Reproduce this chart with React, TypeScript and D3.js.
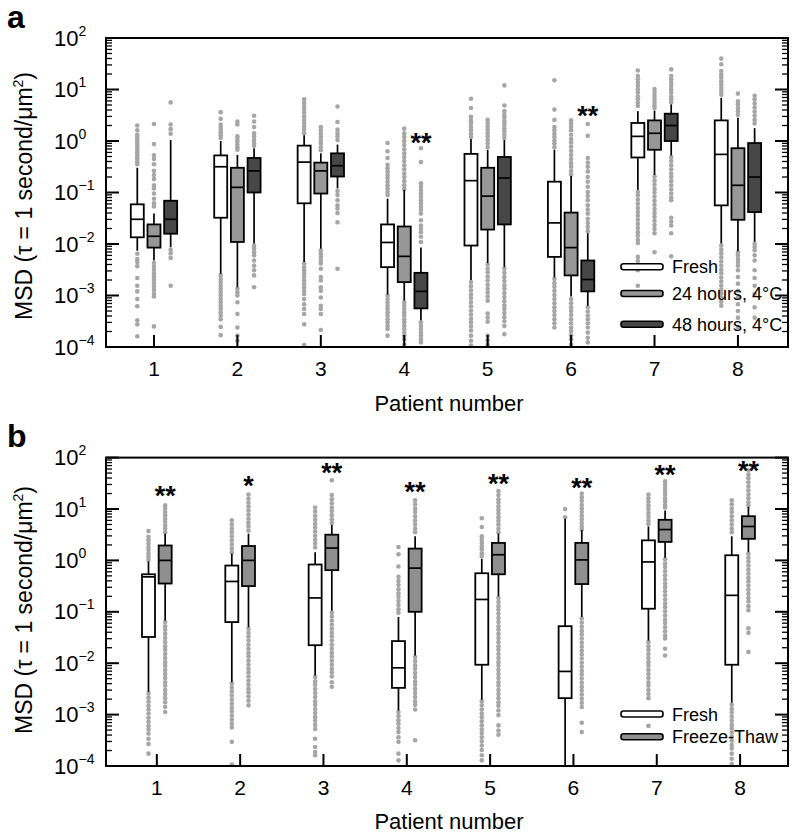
import React from "react";
import * as d3 from "d3";

// ---------- DATA (all values are log10 of MSD, τ = 1 s, µm²) ----------
const patients = [1, 2, 3, 4, 5, 6, 7, 8];
const decades = [-4, -3, -2, -1, 0, 1, 2];

// Panel a
const groupsA = ["Fresh", "24 hours, 4°C", "48 hours, 4°C"];
// [whiskerLow, q1, median, q3, whiskerHigh]
const aFreshStats = [
  [-2.13, -1.87, -1.52, -1.23, -0.52],
  [-2.58, -1.49, -0.5, -0.28, 0.0],
  [-2.35, -1.21, -0.41, -0.09, 0.11],
  [-2.98, -2.45, -1.97, -1.62, -1.12],
  [-2.7, -2.03, -0.77, -0.25, 0.04],
  [-2.65, -2.25, -1.59, -0.79, -0.17],
  [-0.95, -0.32, 0.09, 0.35, 0.58],
  [-1.99, -1.25, -0.26, 0.4, 0.84],
];
const a24Stats = [
  [-2.32, -2.07, -1.85, -1.62, -1.41],
  [-2.84, -1.96, -0.9, -0.52, -0.27],
  [-2.09, -1.02, -0.58, -0.42, -0.24],
  [-3.1, -2.74, -2.24, -1.66, -0.95],
  [-2.37, -1.72, -1.07, -0.52, -0.17],
  [-3.02, -2.61, -2.07, -1.39, -0.68],
  [-0.66, -0.17, 0.15, 0.4, 0.59],
  [-2.14, -1.53, -0.86, -0.14, 0.45],
];
const a48Stats = [
  [-2.06, -1.8, -1.52, -1.16, 0.02],
  [-1.99, -1.0, -0.58, -0.33, -0.14],
  [-0.92, -0.69, -0.48, -0.24, -0.07],
  [-3.48, -3.25, -2.92, -2.56, -2.07],
  [-2.45, -1.62, -0.72, -0.31, 0.02],
  [-3.2, -2.92, -2.69, -2.32, -1.79],
  [-0.28, 0.0, 0.3, 0.53, 0.71],
  [-1.96, -1.38, -0.7, -0.04, 0.25],
];
const aFreshOut = [
  [0.3, 0.21, 0.12, 0.08, 0.04, -0.01, -0.05, -0.09, -0.14, -0.19, -0.22, -0.27, -0.32, -0.35, -0.4, -0.45, -2.19, -2.29, -2.35, -2.43, -2.66, -2.81, -2.92, -3.07, -3.21, -3.48, -3.56, -3.79],
  [0.56, 0.43, 0.32, 0.27, 0.22, 0.17, 0.11, 0.06, -2.61, -2.68, -2.74, -2.81, -2.87, -2.94, -3.0, -3.07, -3.13, -3.2, -3.26, -3.33, -3.39, -3.46, -3.61, -3.77],
  [0.81, 0.74, 0.67, 0.61, 0.55, 0.48, 0.41, 0.35, 0.28, 0.22, 0.15, -2.38, -2.45, -2.51, -2.58, -2.64, -2.71, -2.77, -2.84, -2.91, -2.97, -3.07, -3.17, -3.26, -3.36, -3.56, -3.96],
  [-0.04, -0.2, -0.33, -0.46, -0.53, -0.59, -0.66, -0.72, -0.79, -0.86, -0.92, -0.99, -1.05, -3.0, -3.07, -3.13, -3.2, -3.26, -3.33, -3.39, -3.46, -3.52, -3.59, -3.65, -3.78],
  [0.82, 0.64, 0.47, 0.4, 0.34, 0.27, 0.21, 0.14, 0.08, -2.74, -2.82, -2.9, -2.98, -3.05, -3.13, -3.21, -3.29, -3.37, -3.45, -3.52, -3.6, -3.68, -3.78, -3.88, -3.97],
  [1.18, 0.61, 0.41, 0.27, 0.21, 0.14, 0.08, 0.01, -0.05, -0.12, -2.68, -2.76, -2.83, -2.91, -2.99, -3.07, -3.15, -3.23, -3.3, -3.38, -3.46, -3.54, -3.62],
  [1.37, 1.26, 1.2, 1.13, 1.07, 1.0, 0.94, 0.87, 0.81, 0.74, 0.68, -0.99, -1.06, -1.14, -1.22, -1.3, -1.38, -1.45, -1.53, -1.61, -1.69, -1.77, -1.84, -1.92, -1.98, -2.25, -2.33, -2.42, -2.51, -2.81],
  [1.6, 1.49, 1.36, 1.29, 1.23, 1.16, 1.1, 1.03, 0.97, 0.9, -2.03, -2.11, -2.18, -2.26, -2.34, -2.42, -2.5, -2.57, -2.65, -2.73, -2.81, -2.89, -2.96, -3.04, -3.12, -3.2],
];
const a24Out = [
  [0.33, -0.06, -0.28, -0.35, -0.45, -0.58, -0.66, -0.74, -0.86, -0.92, -1.02, -1.12, -1.21, -1.27, -2.37, -2.44, -2.5, -2.57, -2.63, -2.7, -2.76, -2.83, -2.89, -2.96, -3.02, -3.6],
  [0.38, 0.32, 0.09, 0.04, -0.01, -0.07, -0.12, -0.17, -2.87, -2.94, -3.0, -3.13, -3.36, -3.62, -3.78, -3.88],
  [0.27, 0.21, 0.14, 0.08, 0.01, -0.05, -0.12, -0.18, -2.12, -2.19, -2.25, -2.32, -2.38, -2.48, -2.64, -2.71, -2.84, -2.91, -3.04, -3.2, -3.26, -3.36, -3.67],
  [0.24, 0.15, 0.08, 0.0, -0.08, -0.16, -0.24, -0.31, -0.39, -0.47, -0.55, -0.63, -0.7, -0.78, -0.86, -0.93, -3.13, -3.2, -3.26, -3.33, -3.39, -3.46, -3.52, -3.59, -3.65, -3.72, -3.78, -3.85, -3.95],
  [0.41, 0.35, 0.28, 0.22, 0.15, 0.09, 0.02, -0.05, -0.12, -2.4, -2.48, -2.55, -2.63, -2.71, -2.79, -2.87, -2.94, -3.02, -3.1, -3.35, -3.43, -3.51, -3.78, -3.87, -3.95],
  [0.4, 0.34, 0.27, 0.21, 0.12, 0.04, -0.03, -0.11, -0.19, -0.27, -0.35, -0.43, -0.5, -0.58, -0.65, -3.07, -3.15, -3.23, -3.3, -3.38, -3.46, -3.54, -3.62, -3.69, -3.77, -3.85, -3.95],
  [1.01, 0.95, 0.88, 0.82, 0.75, 0.69, 0.64, -0.69, -0.77, -0.85, -0.93, -1.0, -1.08, -1.16, -1.24, -1.32, -1.4, -1.47, -1.55, -1.63, -1.71, -1.79, -2.16],
  [0.92, 0.77, 0.71, 0.64, 0.58, 0.51, -2.16, -2.22, -2.29, -2.35, -2.42, -2.51, -2.64, -2.77, -2.91, -3.04, -3.17, -3.3, -3.43, -3.62],
];
const a48Out = [
  [0.75, 0.32, 0.23, 0.14, -2.11, -2.18, -2.27, -2.81],
  [0.49, 0.38, 0.27, 0.15, 0.09, 0.02, -0.04, -0.09, -2.03, -2.09, -2.16, -2.22, -2.32, -2.42, -2.51, -2.61, -2.84],
  [0.67, 0.37, 0.22, 0.15, 0.09, 0.02, -0.97, -1.05, -1.15, -1.25, -1.31, -1.4, -1.58, -2.48],
  [-0.14, -0.41, -0.82, -0.89, -0.95, -1.02, -1.08, -1.15, -1.21, -1.28, -1.34, -1.41, -1.54, -1.64, -1.7, -1.77, -1.86, -1.96, -3.52, -3.59, -3.65, -3.72, -3.78, -3.85, -3.91],
  [1.08, 0.69, 0.58, 0.51, 0.45, 0.38, 0.32, 0.25, 0.19, 0.12, 0.06, -2.48, -2.56, -2.64, -2.72, -2.8, -2.87, -2.95, -3.03, -3.11, -3.19, -3.26, -3.34, -3.42, -3.5, -3.59, -3.75],
  [0.33, 0.1, -0.33, -0.42, -0.5, -0.59, -0.7, -0.79, -0.89, -0.99, -1.07, -1.15, -1.25, -1.33, -1.41, -1.51, -1.59, -1.67, -1.75, -3.23, -3.31, -3.39, -3.46, -3.54, -3.62, -3.72, -3.82, -3.91],
  [1.39, 1.26, 1.2, 1.13, 1.07, 1.0, 0.94, 0.87, 0.81, 0.75, -0.31, -0.39, -0.47, -0.55, -0.63, -0.7, -0.78, -0.86, -0.94, -1.02, -1.1, -1.15, -1.49, -1.57, -1.64, -1.79, -2.24],
  [0.88, 0.81, 0.73, 0.65, 0.57, 0.49, 0.41, 0.34, -2.0, -2.06, -2.12, -2.22, -2.32, -2.51, -2.66, -2.81, -2.97, -3.23, -3.43],
];
// significance marks (panel a), placed over the 48 h box
const sigA = ["", "", "", "**", "", "**", "", ""];
const sigALevel = [0, 0, 0, 0.08, 0, 0.6, 0, 0];

// Panel b
const groupsB = ["Fresh", "Freeze-Thaw"];
const bFreshStats = [
  [-2.56, -1.49, -0.32, -0.27, -0.02],
  [-2.37, -1.2, -0.41, -0.1, 0.13],
  [-2.24, -1.65, -0.73, -0.08, 0.16],
  [-2.92, -2.48, -2.09, -1.57, -1.1],
  [-2.71, -2.03, -0.76, -0.25, 0.03],
  [-4.5, -2.68, -2.16, -1.28, 0.81],
  [-1.56, -0.94, -0.03, 0.39, 0.66],
  [-2.77, -2.03, -0.68, 0.1, 0.47],
];
const bFTStats = [
  [-1.17, -0.45, 0.0, 0.29, 0.52],
  [-1.3, -0.5, 0.0, 0.28, 0.52],
  [-0.98, -0.19, 0.24, 0.5, 0.69],
  [-1.85, -1.0, -0.15, 0.23, 0.47],
  [-0.7, -0.27, 0.11, 0.34, 0.52],
  [-1.1, -0.46, 0.01, 0.34, 0.59],
  [0.05, 0.36, 0.6, 0.79, 0.97],
  [0.16, 0.42, 0.66, 0.86, 1.04],
];
const bFreshOut = [
  [0.57, 0.46, 0.39, 0.33, 0.26, 0.2, 0.13, 0.07, 0.01, -2.59, -2.67, -2.75, -2.83, -2.9, -2.98, -3.06, -3.14, -3.22, -3.29, -3.37, -3.47, -3.57, -3.76],
  [0.78, 0.7, 0.62, 0.55, 0.47, 0.39, 0.31, 0.23, 0.16, -2.4, -2.48, -2.55, -2.63, -2.71, -2.79, -2.87, -2.94, -3.02, -3.1, -3.18, -3.25, -3.53, -3.97],
  [1.03, 0.95, 0.87, 0.79, 0.71, 0.64, 0.56, 0.48, 0.4, 0.33, 0.25, -2.27, -2.35, -2.42, -2.5, -2.58, -2.66, -2.74, -2.81, -2.89, -2.97, -3.05, -3.12, -3.2, -3.28, -3.47, -3.63, -3.73, -3.79],
  [0.26, 0.12, -0.12, -0.32, -0.4, -0.48, -0.56, -0.64, -0.71, -0.79, -0.87, -0.95, -1.02, -2.95, -3.03, -3.11, -3.18, -3.26, -3.34, -3.44, -3.53, -3.76, -3.89],
  [0.82, 0.65, 0.47, 0.4, 0.34, 0.27, 0.21, 0.14, 0.08, -2.74, -2.82, -2.9, -2.98, -3.05, -3.13, -3.21, -3.29, -3.36, -3.44, -3.52, -3.6, -3.69, -3.79, -3.89],
  [1.0, 0.84],
  [1.28, 1.21, 1.14, 1.07, 1.0, 0.92, 0.85, 0.78, 0.71, -1.59, -1.67, -1.74, -1.82, -1.9, -1.98, -2.05, -2.13, -2.21, -2.29, -2.37, -2.44, -2.52, -2.6, -2.68, -3.22],
  [1.17, 1.09, 1.01, 0.94, 0.86, 0.78, 0.7, 0.62, 0.55, -2.81, -2.89, -2.96, -3.04, -3.12, -3.2, -3.27, -3.35, -3.43, -3.51, -3.59, -3.66, -3.76, -3.86, -3.96],
];
const bFTOut = [
  [1.07, 1.01, 0.94, 0.88, 0.81, 0.75, 0.68, 0.62, 0.55, -1.2, -1.28, -1.35, -1.43, -1.51, -1.59, -1.67, -1.74, -1.82, -1.9, -1.98, -2.05, -2.13, -2.21, -2.29, -2.37, -2.44, -2.52, -2.6, -2.68, -2.76, -2.85, -2.95],
  [1.28, 1.2, 1.12, 1.05, 0.97, 0.89, 0.81, 0.73, 0.66, 0.58, -1.33, -1.41, -1.48, -1.56, -1.64, -1.72, -1.8, -1.87, -1.95, -2.03, -2.11, -2.18, -2.26, -2.34, -2.42, -2.5, -2.57, -2.65, -2.73, -2.82],
  [1.56, 1.27, 1.19, 1.11, 1.03, 0.96, 0.88, 0.8, 0.73, -1.02, -1.09, -1.17, -1.25, -1.33, -1.41, -1.48, -1.56, -1.64, -1.72, -1.8, -1.87, -1.95, -2.03, -2.11, -2.18, -2.26, -2.37, -2.46],
  [1.17, 1.09, 1.01, 0.94, 0.86, 0.78, 0.7, 0.62, 0.55, -1.88, -1.96, -2.04, -2.11, -2.19, -2.27, -2.35, -2.42, -2.5, -2.58, -2.66, -2.74, -2.81, -2.9, -3.5],
  [1.35, 1.27, 1.19, 1.12, 1.05, 0.98, 0.91, 0.84, 0.77, 0.7, 0.62, 0.55, -0.73, -0.81, -0.89, -0.96, -1.04, -1.12, -1.2, -1.28, -1.35, -1.43, -1.51, -1.59, -1.67, -1.74, -1.82, -1.9, -1.98, -2.05, -2.13, -2.21, -2.29, -2.37, -2.44, -2.52, -2.6, -2.68, -2.76, -2.83, -2.92, -3.01, -3.21, -3.31, -3.39],
  [1.3, 1.23, 1.16, 1.08, 1.01, 0.94, 0.87, 0.8, 0.73, 0.66, 0.6, -1.13, -1.21, -1.29, -1.37, -1.44, -1.52, -1.6, -1.68, -1.76, -1.83, -1.91, -1.99, -2.07, -2.15, -2.22, -2.3, -2.38, -2.46, -2.53, -2.61, -2.69, -2.77, -2.85, -3.16, -3.34],
  [1.54, 1.47, 1.41, 1.34, 1.28, 1.21, 1.15, 1.08, 1.03, 0.02, -0.06, -0.13, -0.21, -0.29, -0.37, -0.45, -0.52, -0.6, -0.68, -0.76, -0.84, -0.91, -0.99, -1.07, -1.15, -1.22, -1.3, -1.38, -1.46, -1.52, -1.72, -1.85],
  [1.75, 1.67, 1.6, 1.52, 1.44, 1.36, 1.28, 1.21, 1.13, 1.07, 0.13, 0.05, -0.02, -0.1, -0.18, -0.26, -0.34, -0.41, -0.49, -0.57, -0.65, -0.73, -0.8, -0.89, -0.97, -1.32, -1.41, -1.78],
];
const sigB = ["**", "*", "**", "**", "**", "**", "**", "**"];
const sigBLevel = [1.36, 1.56, 1.82, 1.45, 1.6, 1.53, 1.77, 1.86];

// ---------- STYLE ----------
const FONT = "'Liberation Sans', Arial, Helvetica, sans-serif";
const FILLS_A = ["#ffffff", "#979797", "#474747"];
const FILLS_B = ["#ffffff", "#8f8f8f"];
const DOT = "#a6a6a6";
const BOX_W = 13;

type PanelProps = {
  letter: string;
  top: number;
  bottom: number;
  xDomain: [number, number];
  offsets: number[];
  groups: string[];
  fills: string[];
  stats: number[][][];
  outliers: number[][][];
  sig: string[];
  sigLevel: number[];
  sigGroup: number;
  legendY: number[];
  letterY: number;
  titleY: number;
  tickLabelY: number;
  ylabelY: number;
};

const LEFT = 106;
const RIGHT = 788;

function Panel(p: PanelProps) {
  const x = d3.scaleLinear().domain(p.xDomain).range([LEFT, RIGHT]);
  const y = d3.scaleLog().domain([1e-4, 1e2]).range([p.bottom, p.top]);
  const ly = (v: number) => y(Math.pow(10, v));
  const clipId = "clip" + p.letter;

  const minor: number[] = [];
  for (let e = -4; e < 2; e++) for (let m = 2; m <= 9; m++) minor.push(m * Math.pow(10, e));

  return (
    <g>
      <defs>
        <clipPath id={clipId}>
          <rect x={LEFT} y={p.top} width={RIGHT - LEFT} height={p.bottom - p.top} />
        </clipPath>
      </defs>
      <text x={7} y={p.letterY} fontFamily={FONT} fontWeight="bold" fontSize={32}>{p.letter}</text>

      <g clipPath={`url(#${clipId})`}>
        {/* outliers */}
        {p.outliers.map((grp, gi) =>
          grp.map((vals, pi) =>
            vals.map((v, k) => (
              <circle key={`o${gi}-${pi}-${k}`} cx={x(patients[pi] + p.offsets[gi])} cy={ly(v)} r={2.3} fill={DOT} />
            ))
          )
        )}
        {/* whiskers and boxes */}
        {p.stats.map((grp, gi) =>
          grp.map((s, pi) => {
            const cx = x(patients[pi] + p.offsets[gi]);
            const [lo, q1, med, q3, hi] = s.map(ly);
            return (
              <g key={`b${gi}-${pi}`}>
                <line x1={cx} x2={cx} y1={lo} y2={q1} stroke="#000" strokeWidth={1.7} />
                <line x1={cx} x2={cx} y1={q3} y2={hi} stroke="#000" strokeWidth={1.7} />
                <rect x={cx - BOX_W / 2} y={q3} width={BOX_W} height={q1 - q3} fill={p.fills[gi]} stroke="#000" strokeWidth={1.8} />
                <line x1={cx - BOX_W / 2} x2={cx + BOX_W / 2} y1={med} y2={med} stroke="#000" strokeWidth={1.7} />
              </g>
            );
          })
        )}
      </g>

      {/* significance */}
      {p.sig.map((s, pi) =>
        s ? (
          <text key={`s${pi}`} x={x(patients[pi] + p.offsets[p.sigGroup])} y={ly(p.sigLevel[pi]) + 0.55 * 27}
            textAnchor="middle" fontFamily={FONT} fontWeight="bold" fontSize={27}>{s}</text>
        ) : null
      )}

      {/* frame */}
      <rect x={LEFT} y={p.top} width={RIGHT - LEFT} height={p.bottom - p.top} fill="none" stroke="#000" strokeWidth={2} />

      {/* y ticks */}
      {decades.map((e) => (
        <g key={`yt${e}`}>
          <line x1={LEFT} x2={LEFT + 13} y1={ly(e)} y2={ly(e)} stroke="#000" strokeWidth={2} />
          <line x1={RIGHT} x2={RIGHT - 13} y1={ly(e)} y2={ly(e)} stroke="#000" strokeWidth={2} />
          <text x={54} y={ly(e) + 7.5} fontFamily={FONT} fontSize={22}>
            10<tspan dy={-10} fontSize={14}>{e < 0 ? "\u2212" + Math.abs(e) : String(e)}</tspan>
          </text>
        </g>
      ))}
      {minor.map((v, i) => (
        <g key={`ym${i}`}>
          <line x1={LEFT} x2={LEFT + 6} y1={y(v)} y2={y(v)} stroke="#000" strokeWidth={1.3} />
          <line x1={RIGHT} x2={RIGHT - 6} y1={y(v)} y2={y(v)} stroke="#000" strokeWidth={1.3} />
        </g>
      ))}

      {/* x ticks */}
      {patients.map((pt) => (
        <g key={`xt${pt}`}>
          <line x1={x(pt)} x2={x(pt)} y1={p.bottom} y2={p.bottom - 12} stroke="#000" strokeWidth={2} />
          <text x={x(pt)} y={p.tickLabelY} textAnchor="middle" fontFamily={FONT} fontSize={21}>{pt}</text>
        </g>
      ))}

      {/* axis titles */}
      <text x={(LEFT + RIGHT) / 2 + 2} y={p.titleY} textAnchor="middle" fontFamily={FONT} fontSize={22}>Patient number</text>
      <text transform={`translate(32,${p.ylabelY}) rotate(-90)`} textAnchor="middle" fontFamily={FONT} fontSize={23}>
        MSD (τ = 1 second/μm<tspan dy={-9} fontSize={14}>2</tspan><tspan dy={9}>)</tspan>
      </text>

      {/* legend */}
      {p.groups.map((g, gi) => (
        <g key={`lg${gi}`}>
          <rect x={621} y={p.legendY[gi] - 3} width={42} height={6} rx={2.5} fill={p.fills[gi]} stroke="#000" strokeWidth={1.6} />
          <text x={672} y={p.legendY[gi] + 6.5} fontFamily={FONT} fontSize={18}>{g}</text>
        </g>
      ))}
    </g>
  );
}

export default function App() {
  return (
    <svg width={796} height={835} style={{ position: "absolute", left: 0, top: 0, background: "#fff" }}>
      <rect x={0} y={0} width={796} height={835} fill="#fff" />
      <Panel
        letter="a"
        top={38}
        bottom={347}
        xDomain={[0.425, 8.6]}
        offsets={[-0.2, 0, 0.2]}
        groups={groupsA}
        fills={FILLS_A}
        stats={[aFreshStats, a24Stats, a48Stats]}
        outliers={[aFreshOut, a24Out, a48Out]}
        sig={sigA}
        sigLevel={sigALevel}
        sigGroup={2}
        legendY={[266.7, 293.5, 324.3]}
        letterY={28}
        titleY={411}
        tickLabelY={376}
        ylabelY={196}
      />
      <Panel
        letter="b"
        top={457.6}
        bottom={766}
        xDomain={[0.39, 8.575]}
        offsets={[-0.1, 0.1]}
        groups={groupsB}
        fills={FILLS_B}
        stats={[bFreshStats, bFTStats]}
        outliers={[bFreshOut, bFTOut]}
        sig={sigB}
        sigLevel={sigBLevel}
        sigGroup={1}
        legendY={[714, 736.7]}
        letterY={447}
        titleY={829}
        tickLabelY={795}
        ylabelY={610}
      />
    </svg>
  );
}
